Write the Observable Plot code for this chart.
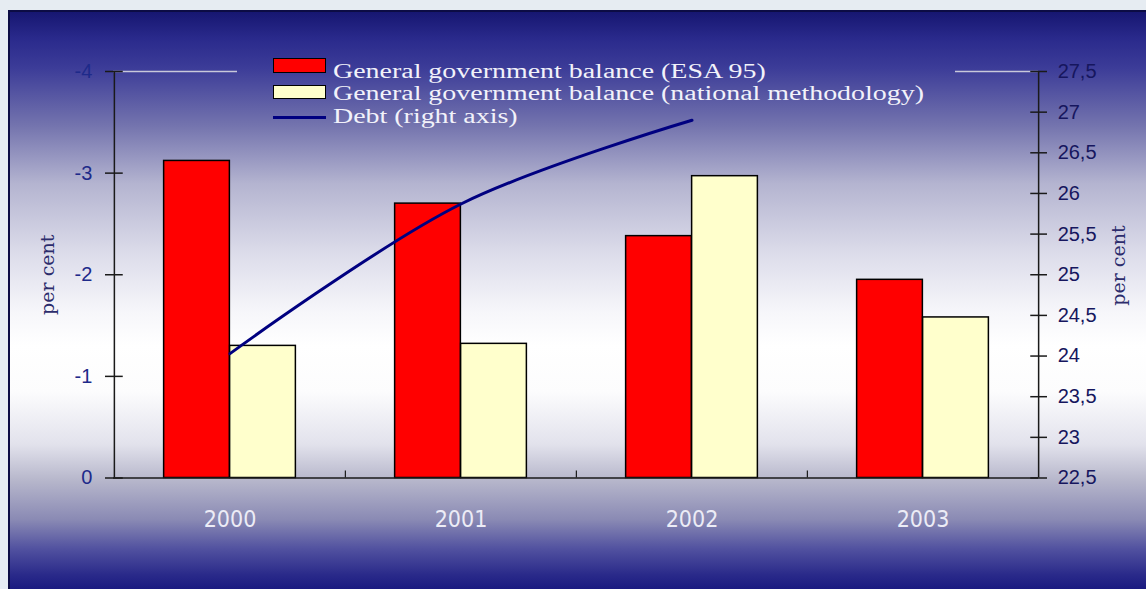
<!DOCTYPE html>
<html>
<head>
<meta charset="utf-8">
<script src="https://cdn.jsdelivr.net/npm/d3@7"></script>
<script src="https://cdn.jsdelivr.net/npm/@observablehq/plot@0.6"></script>
<style>
  :root {
    --grad: linear-gradient(to bottom,
      #15156f 0%, #2a2a8c 5%, #3c3c98 10%, #7474ae 20%, #b4b4d0 30%,
      #dcdcea 42%, #f6f6fa 52%, #ffffff 58%, #fcfcfd 66%, #e2e2ec 75%,
      #b8b8cc 81%, #8a8ab4 88%, #5252a0 93%, #2a2a8a 97.5%, #1a1a80 100%);
  }
  html, body { margin: 0; padding: 0; width: 1146px; height: 589px; overflow: hidden; background: #e6ecf2; }
  #panel { position: absolute; left: 8px; top: 10px; width: 1138px; height: 579px; box-sizing: border-box;
    border-left: 2px solid #0c0c44; border-top: 2px solid #0c0c44;
    background: var(--grad); background-origin: border-box; }
  #chart { position: absolute; left: 0; top: 0; }
  #mask { position: absolute; left: 237px; top: 66px; width: 718px; height: 10px;
    background: var(--grad); background-size: 1138px 579px; background-position: -229px -56px; }
  #legend { position: absolute; left: 0; top: 0; }
  .sw { position: absolute; left: 273px; width: 53px; box-sizing: border-box; }
  .lt { position: absolute; left: 333px; font-family: "Liberation Serif", "Times New Roman", serif; font-size: 20px;
    line-height: 24px; color: #f2f2fa; white-space: nowrap; transform-origin: 0 50%; }
</style>
</head>
<body>
<div id="panel"></div>
<div id="chart"></div>
<div id="mask"></div>
<div id="legend"></div>
<script>
const years = ["2000", "2001", "2002", "2003"];
const esa95 = [-3.12, -2.70, -2.38, -1.95];
const national = [-1.30, -1.32, -2.97, -1.58];
const debtYears = ["2000", "2001", "2002"];
const debt = [24.03, 25.87, 26.9];
const leftTicks = [0, -1, -2, -3, -4];
const rightTicks = [22.5, 23, 23.5, 24, 24.5, 25, 25.5, 26, 26.5, 27, 27.5];
const legendLabels = [
  "General government balance (ESA 95)",
  "General government balance (national methodology)",
  "Debt (right axis)"
];
const legendColors = ["#ff0000", "#ffffcc", "#000080"];

const W = 1146, H = 589, mL = 113, mR = 108, mT = 71, mB = 111.5;
const band = (W - mL - mR) / years.length, barW = 66;
const toLeft = d => -(d - 22.5) * 4 / 5;
const fmt = d => String(d).replace(".", ",");

const rows = years.map((y, i) => ({year: y, esa: esa95[i], nat: national[i]}));
const debtRows = debtYears.map((y, i) => ({year: y, debt: debt[i]}));
const numFont = "'Liberation Sans', Arial, sans-serif";
const yearFont = "'Liberation Sans Narrow', 'DejaVu Sans Condensed', 'Liberation Sans', sans-serif";
const wideSerif = "'DejaVu Serif', 'Liberation Serif', serif";
const first = years[0], last = years[years.length - 1];

const chart = Plot.plot({
  width: W, height: H,
  marginLeft: mL, marginRight: mR, marginTop: mT, marginBottom: mB,
  style: {background: "transparent", overflow: "visible"},
  x: {type: "band", domain: years, padding: 0, axis: null},
  y: {domain: [0, -4], axis: null},
  marks: [
    Plot.ruleY([-4], {stroke: "#c8c8da", strokeWidth: 1.5}),
    Plot.barY(rows, {x: "year", y: "esa", fill: legendColors[0], stroke: "#000", strokeWidth: 1.5,
      insetLeft: band / 2 - barW, insetRight: band / 2}),
    Plot.barY(rows, {x: "year", y: "nat", fill: legendColors[1], stroke: "#000", strokeWidth: 1.5,
      insetLeft: band / 2, insetRight: band / 2 - barW}),
    Plot.line(debtRows, {x: "year", y: d => toLeft(d.debt), curve: "catmull-rom",
      stroke: legendColors[2], strokeWidth: 3}),
    // axis lines
    Plot.ruleY([0], {stroke: "#1a1a1a", strokeWidth: 1.5}),
    Plot.ruleX([first], {x: d => d, y1: 0, y2: -4, dx: -band / 2, stroke: "#1a1a1a", strokeWidth: 1.5}),
    Plot.ruleX([last], {x: d => d, y1: 0, y2: -4, dx: band / 2, stroke: "#1a1a1a", strokeWidth: 1.5}),
    // category boundary ticks
    Plot.ruleX(years.slice(1), {x: d => d, y1: 0, y2: -0.07, dx: -band / 2, stroke: "#1a1a1a", strokeWidth: 1.2}),
    // left ticks + labels
    Plot.tickY(leftTicks, {y: d => d, x: () => first, insetLeft: -9, insetRight: band - 9, stroke: "#1a1a1a", strokeWidth: 1.5}),
    Plot.text(leftTicks, {y: d => d, x: () => first, dx: -band / 2 - 22, text: d => String(d), textAnchor: "end",
      fill: "#1e2a8a", fontSize: 20, fontFamily: numFont}),
    // right ticks + labels
    Plot.tickY(rightTicks, {y: toLeft, x: () => last, insetLeft: band - 8, insetRight: -9, stroke: "#1a1a1a", strokeWidth: 1.5}),
    Plot.text(rightTicks, {y: toLeft, x: () => last, dx: band / 2 + 19, text: fmt, textAnchor: "start",
      fill: "#16165e", fontSize: 20, fontFamily: numFont}),
    // year labels
    Plot.text(years, {x: d => d, y: () => 0, dy: 42, text: d => d, fill: "#ececf6", fontSize: 23, fontFamily: yearFont}),
    // axis titles
    Plot.text(["per cent"], {x: () => first, y: () => -2, dx: -band / 2 - 66, rotate: -90, text: d => d,
      fill: "#2c2c6c", fontSize: 19, fontFamily: wideSerif}),
    Plot.text(["per cent"], {x: () => last, y: () => -2.09, dx: band / 2 + 80, rotate: -90, text: d => d,
      fill: "#2c2c6c", fontSize: 19, fontFamily: wideSerif})
  ]
});
document.getElementById("chart").appendChild(chart);

// legend
const legend = document.getElementById("legend");
const swTops = [58, 85, 115.5], swH = [15, 14, 3];
const textTops = [58.7, 81.2, 103.7];
const target = 591; // width of longest label
legendLabels.forEach((lab, i) => {
  const sw = document.createElement("div");
  sw.className = "sw";
  sw.style.top = swTops[i] + "px";
  sw.style.height = swH[i] + "px";
  sw.style.background = legendColors[i];
  if (i < 2) sw.style.border = "1.5px solid #000";
  legend.appendChild(sw);
  const t = document.createElement("div");
  t.className = "lt";
  t.style.top = textTops[i] + "px";
  t.textContent = lab;
  legend.appendChild(t);
});
const texts = legend.querySelectorAll(".lt");
const s = target / texts[1].getBoundingClientRect().width;
texts.forEach(t => t.style.transform = `scaleX(${s})`);
</script>
</body>
</html>
